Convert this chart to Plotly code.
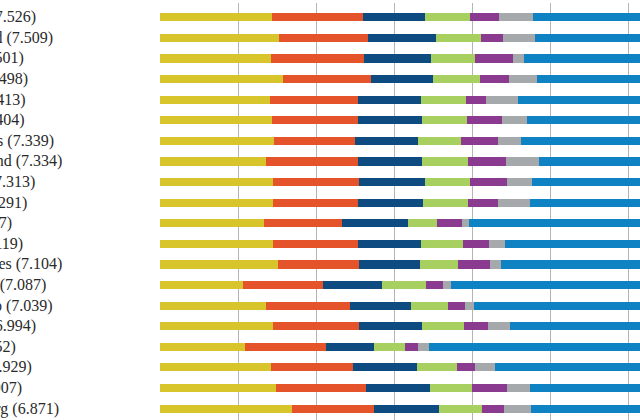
import plotly.graph_objects as go

countries = ["Denmark", "Switzerland", "Iceland", "Norway", "Finland", "Canada",
             "Netherlands", "New Zealand", "Australia", "Sweden", "Israel", "Austria",
             "United States", "Costa Rica", "Puerto Rico", "Germany", "Brazil",
             "Belgium", "Ireland", "Luxembourg"]
scores = ["7.526", "7.509", "7.501", "7.498", "7.413", "7.404", "7.339", "7.334",
          "7.313", "7.291", "7.267", "7.119", "7.104", "7.087", "7.039", "6.994",
          "6.952", "6.929", "6.907", "6.871"]

gdp = [1.44178, 1.52733, 1.42666, 1.57744, 1.40598, 1.44015, 1.46468, 1.36066, 1.44443, 1.45181,
       1.33766, 1.45038, 1.50796, 1.06879, 1.35943, 1.44787, 1.08754, 1.42539, 1.48341, 1.69752]
social = [1.16374, 1.14524, 1.18326, 1.12690, 1.13464, 1.09610, 1.02912, 1.17278, 1.10476, 1.08764,
          0.99537, 1.08383, 1.04782, 1.02152, 1.08113, 1.09774, 1.03938, 1.05249, 1.16157, 1.03999]
health = [0.79504, 0.86303, 0.86733, 0.79579, 0.81091, 0.82760, 0.81231, 0.83096, 0.85120, 0.83121,
          0.84917, 0.80565, 0.77900, 0.76146, 0.77758, 0.81487, 0.61415, 0.81959, 0.81455, 0.84542]
freedom = [0.57941, 0.58557, 0.56624, 0.59609, 0.57104, 0.57370, 0.55211, 0.58147, 0.56837, 0.58218,
           0.36432, 0.54355, 0.48163, 0.55225, 0.46823, 0.53466, 0.40425, 0.51354, 0.54008, 0.54870]
generosity = [0.36171, 0.28083, 0.47678, 0.37895, 0.25492, 0.44834, 0.47416, 0.49401, 0.47407, 0.38254,
              0.32288, 0.32865, 0.41077, 0.22553, 0.22202, 0.30452, 0.15776, 0.22540, 0.44963, 0.27571]
trust = [0.44453, 0.41203, 0.14975, 0.35776, 0.41004, 0.31329, 0.29927, 0.41904, 0.32331, 0.40867,
         0.08728, 0.21348, 0.14868, 0.10547, 0.12275, 0.28551, 0.14166, 0.26248, 0.29754, 0.35329]
dystopia = [2.73939, 2.69463, 2.83137, 2.66465, 2.82596, 2.70485, 2.70749, 2.47553, 2.54634, 2.54734,
            3.31029, 2.69343, 2.72782, 3.35168, 3.00787, 2.50931, 3.50733, 2.62904, 2.15988, 2.10923]

series = [
    ("GDP per capita", gdp, "#D8C52B"),
    ("Social support", social, "#E5532A"),
    ("Healthy life expectancy", health, "#0E4B80"),
    ("Freedom", freedom, "#A8D060"),
    ("Generosity", generosity, "#8A3A8F"),
    ("Perceptions of corruption", trust, "#A6A9AC"),
    ("Dystopia + residual", dystopia, "#0E82C3"),
]

fig = go.Figure()
for name, vals, col in series:
    fig.add_trace(go.Bar(y=countries, x=vals, orientation="h", name=name,
                         marker=dict(color=col, line=dict(width=0)), width=0.39,
                         hoverinfo="skip"))

for c, s in zip(countries, scores):
    fig.add_annotation(x=-0.4917, xref="paper", y=c, yref="y", xanchor="left",
                       yanchor="middle", text=f"{c} ({s})", showarrow=False,
                       font=dict(family="Liberation Serif", size=16, color="#2a2a2a"))

fig.update_layout(
    barmode="stack", width=640, height=420,
    margin=dict(l=160, r=0, t=3, b=0),
    plot_bgcolor="white", paper_bgcolor="white",
    showlegend=False, bargap=0,
    xaxis=dict(range=[0, 480 / 78], dtick=1, tick0=0, showgrid=True,
               gridcolor="#b4b4b4", gridwidth=1, zeroline=False,
               showticklabels=False, showline=False, layer="above traces"),
    yaxis=dict(autorange=False, range=[19.55, -0.694], showticklabels=False,
               showgrid=False, zeroline=False, showline=False, type="category",
               categoryorder="array", categoryarray=countries),
)

fig.write_html("out.html", config={"displayModeBar": False},
               post_script="document.body.style.margin='0';document.body.style.overflow='hidden';")
